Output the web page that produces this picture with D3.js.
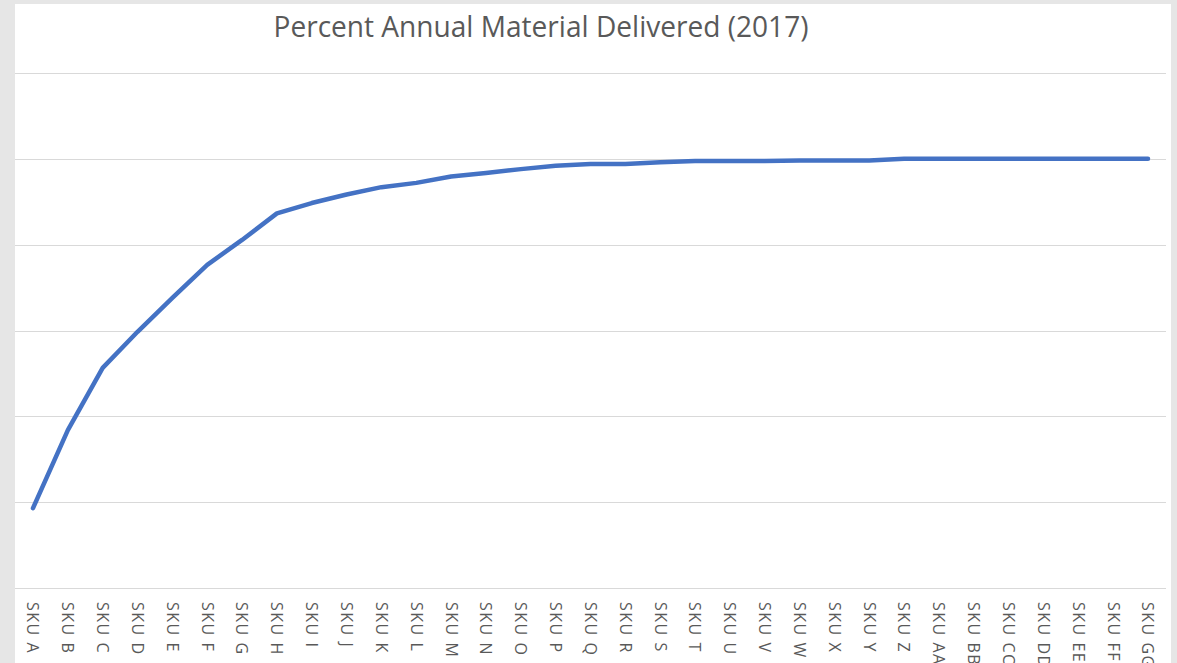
<!DOCTYPE html>
<html>
<head>
<meta charset="utf-8">
<script src="https://cdn.jsdelivr.net/npm/d3@7"></script>
<style>
  body { margin: 0; background: #e6e6e6; overflow: hidden; }
  svg { display: block; }
</style>
</head>
<body>
<svg id="chart" width="1177" height="663"></svg>
<script>
var skus = ['SKU A','SKU B','SKU C','SKU D','SKU E','SKU F','SKU G','SKU H','SKU I','SKU J','SKU K',
  'SKU L','SKU M','SKU N','SKU O','SKU P','SKU Q','SKU R','SKU S','SKU T','SKU U','SKU V','SKU W',
  'SKU X','SKU Y','SKU Z','SKU AA','SKU BB','SKU CC','SKU DD','SKU EE','SKU FF','SKU GG'];
var percentDelivered = [0.186, 0.368, 0.513, 0.597, 0.676, 0.753, 0.811, 0.873, 0.897, 0.917, 0.934,
  0.944, 0.959, 0.967, 0.976, 0.984, 0.988, 0.988, 0.992, 0.995, 0.995, 0.995, 0.996,
  0.996, 0.996, 1.0, 1.0, 1.0, 1.0, 1.0, 1.0, 1.0, 1.0];
var gridTicks = [0, 0.2, 0.4, 0.6, 0.8, 1.0, 1.2];
var title = 'Percent Annual Material Delivered (2017)';

var svg = d3.select('#chart');

// white chart panel (cropped screenshot)
svg.append('rect')
  .attr('x', 15).attr('y', 4)
  .attr('width', 1156).attr('height', 670)
  .style('fill', 'white');

var x = d3.scalePoint().domain(skus).range([33, 1148]);
var y = d3.scaleLinear().domain([0, 1.2]).range([588, 73]);

svg.append('g').selectAll('line')
  .data(gridTicks)
  .enter().append('line')
  .attr('x1', 15).attr('x2', 1166)
  .attr('y1', function(d){ return Math.round(y(d)) + 0.5; })
  .attr('y2', function(d){ return Math.round(y(d)) + 0.5; })
  .style('stroke', '#d9d9d9')
  .style('stroke-width', 1);

svg.append('text')
  .attr('x', 541).attr('y', 37)
  .attr('text-anchor', 'middle')
  .attr('textLength', 535)
  .attr('lengthAdjust', 'spacingAndGlyphs')
  .style('font-family', '"Open Sans", sans-serif')
  .style('font-size', '29px')
  .style('fill', '#595959')
  .text(title);

svg.append('g').selectAll('text')
  .data(skus)
  .enter().append('text')
  .attr('transform', function(d){ return 'translate(' + x(d) + ',602) rotate(90)'; })
  .attr('dy', '0.35em')
  .style('font-family', '"Open Sans", sans-serif')
  .style('font-size', '16px')
  .style('letter-spacing', '1.5px')
  .style('fill', '#595959')
  .text(function(d){ return d; });

var line = d3.line()
  .x(function(d, i){ return x(skus[i]); })
  .y(function(d){ return y(d); });

svg.append('path')
  .datum(percentDelivered)
  .attr('d', line)
  .style('fill', 'none')
  .style('stroke', '#4472c4')
  .style('stroke-width', 4.5)
  .style('stroke-linejoin', 'round')
  .style('stroke-linecap', 'round');
</script>
</body>
</html>
